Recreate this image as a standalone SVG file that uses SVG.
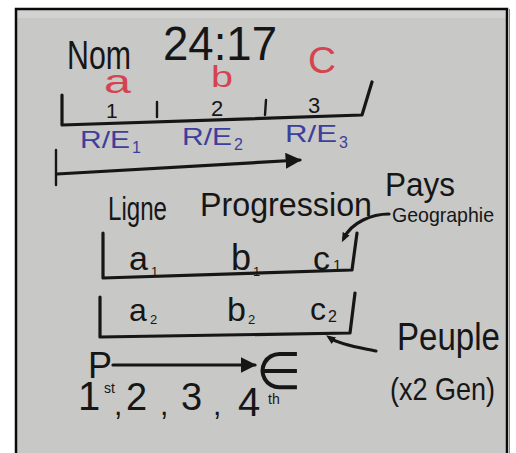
<svg xmlns="http://www.w3.org/2000/svg" width="516" height="453" viewBox="0 0 516 453">
<defs>
<style>
.ink{font-family:"Liberation Sans","DejaVu Sans",sans-serif;fill:#161616}
.red{font-family:"Liberation Sans","DejaVu Sans",sans-serif;fill:#d4434f}
.blue{font-family:"Liberation Sans","DejaVu Sans",sans-serif;fill:#3c3f9c}
.line{fill:none;stroke:#161616;stroke-width:3.2;stroke-linecap:round;stroke-linejoin:round}
.thin{fill:none;stroke:#161616;stroke-width:2.4;stroke-linecap:round}
</style>
<marker id="ah" viewBox="0 0 10 10" refX="9" refY="5" markerWidth="5" markerHeight="5" orient="auto" markerUnits="strokeWidth">
<path d="M0,0 L10,5 L0,10 z" fill="#161616"/>
</marker>
<marker id="dot" viewBox="0 0 10 10" refX="5" refY="5" markerWidth="3" markerHeight="3" orient="auto" markerUnits="strokeWidth">
<path d="M0,1 L10,5 L0,9 z" fill="#161616"/>
</marker>
</defs>
<rect x="0" y="0" width="516" height="453" fill="#ffffff"/>
<rect x="16" y="9" width="491" height="444" fill="#c8c8c6"/>
<rect x="17" y="10" width="489" height="8" fill="#d2d2d0"/>
<path d="M16,453 L16,9 L507,9 L507,453" fill="none" stroke="#0a0a0a" stroke-width="2.5"/>
<path d="M509.5,9 L509.5,453" fill="none" stroke="#8a8a8a" stroke-width="1"/>

<g id="title">
<text class="ink" x="67" y="69" font-size="40" textLength="64" lengthAdjust="spacingAndGlyphs">Nom</text>
<text class="ink" x="163" y="60" font-size="48" textLength="114" lengthAdjust="spacingAndGlyphs">24:17</text>
</g>

<g id="scale1">
<text class="red" x="104" y="93" font-size="34" textLength="27" lengthAdjust="spacingAndGlyphs">a</text>
<text class="red" x="211" y="87" font-size="30" textLength="22" lengthAdjust="spacingAndGlyphs">b</text>
<text class="red" x="308" y="73" font-size="36" textLength="28" lengthAdjust="spacingAndGlyphs">C</text>
<text class="ink" x="106" y="118" font-size="21">1</text>
<text class="ink" x="211" y="116" font-size="22">2</text>
<text class="ink" x="308" y="113" font-size="22">3</text>
<text class="blue" x="80" y="148" font-size="24" textLength="50" lengthAdjust="spacingAndGlyphs">R/E</text>
<text class="blue" x="132" y="153" font-size="16">1</text>
<text class="blue" x="182" y="145" font-size="24" textLength="50" lengthAdjust="spacingAndGlyphs">R/E</text>
<text class="blue" x="234" y="150" font-size="16">2</text>
<text class="blue" x="285" y="142" font-size="24" textLength="52" lengthAdjust="spacingAndGlyphs">R/E</text>
<text class="blue" x="339" y="148" font-size="16">3</text>
</g>

<g id="heading">
<text class="ink" x="108" y="220" font-size="34" textLength="59" lengthAdjust="spacingAndGlyphs">Ligne</text>
<text class="ink" x="200" y="216" font-size="34" textLength="172" lengthAdjust="spacingAndGlyphs">Progression</text>
<text class="ink" x="385" y="196" font-size="34" textLength="70" lengthAdjust="spacingAndGlyphs">Pays</text>
<text class="ink" x="392" y="222" font-size="21" textLength="102" lengthAdjust="spacingAndGlyphs">Geographie</text>
</g>

<g id="row1">
<text class="ink" x="129" y="270" font-size="34">a</text>
<text class="ink" x="151" y="276" font-size="13">1</text>
<text class="ink" x="231" y="270" font-size="36">b</text>
<text class="ink" x="253" y="276" font-size="13">1</text>
<text class="ink" x="313" y="270" font-size="34">c</text>
<text class="ink" x="333" y="270" font-size="15">1</text>
</g>

<g id="row2">
<text class="ink" x="129" y="321" font-size="32">a</text>
<text class="ink" x="150" y="324" font-size="13">2</text>
<text class="ink" x="227" y="321" font-size="34">b</text>
<text class="ink" x="248" y="324" font-size="13">2</text>
<text class="ink" x="310" y="320" font-size="32">c</text>
<text class="ink" x="328" y="322" font-size="16">2</text>
</g>

<g id="peuple">
<text class="ink" x="397" y="350" font-size="38" textLength="103" lengthAdjust="spacingAndGlyphs">Peuple</text>
<text class="ink" x="390" y="400" font-size="32" textLength="105" lengthAdjust="spacingAndGlyphs">(x2 Gen)</text>
</g>

<g id="pe">
<text class="ink" x="88" y="378" font-size="36">P</text>
<text class="ink" x="256" y="389" font-size="52">∈</text>
</g>

<g id="order">
<text class="ink" x="78" y="410" font-size="40">1</text>
<text class="ink" x="104" y="393" font-size="14">st</text>
<text class="ink" x="114" y="415" font-size="30">,</text>
<text class="ink" x="126" y="410" font-size="38">2</text>
<text class="ink" x="160" y="415" font-size="30">,</text>
<text class="ink" x="181" y="410" font-size="38">3</text>
<text class="ink" x="213" y="415" font-size="30">,</text>
<text class="ink" x="238" y="416" font-size="40">4</text>
<text class="ink" x="268" y="404" font-size="14">th</text>
</g>

<g id="connectors">
<path class="line" d="M62,95 L62,125 L362,115 L372,82"/>
<path class="thin" d="M157,102 L157,117 M266,100 L265,115"/>
<path class="thin" d="M56,150 L56,185"/>
<path class="line" d="M57,174 L300,160" marker-end="url(#ah)"/>
<path class="line" d="M389,214 C372,214 352,222 344,238" marker-end="url(#dot)"/>
<path class="line" d="M103,233 L103,278 L352,270 L357,233"/>
<path class="line" d="M100,297 L100,337 L350,333 L355,293"/>
<path class="line" d="M376,351 C362,348 340,345 330,338" marker-end="url(#dot)"/>
<path class="line" d="M113,365 L255,365" marker-end="url(#ah)"/>
</g>
</svg>
